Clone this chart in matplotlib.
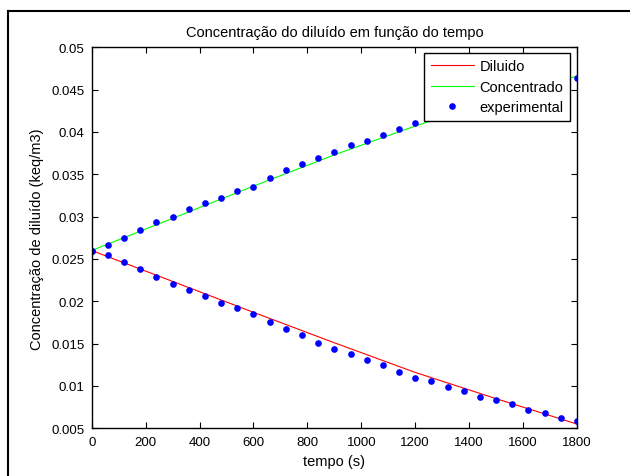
import numpy as np
import matplotlib
matplotlib.use('Agg')
import matplotlib.pyplot as plt
from matplotlib.lines import Line2D

# tempos das medidas (s)
t_exp = [0, 60, 120, 180, 240, 300, 360, 420, 480, 540, 600, 660, 720, 780, 840,
         900, 960, 1020, 1080, 1140, 1200, 1260, 1320, 1380, 1440, 1500, 1560,
         1620, 1680, 1740, 1800]

# pontos experimentais
c_dil_exp = [0.0260, 0.0255, 0.02459, 0.0238, 0.02289, 0.02207, 0.02128, 0.02065,
             0.01982, 0.01919, 0.01852, 0.01761, 0.01667, 0.0160, 0.01509, 0.01442,
             0.01375, 0.01312, 0.01245, 0.01166, 0.01099, 0.0106, 0.00993, 0.00942,
             0.00875, 0.00835, 0.00784, 0.00717, 0.00678, 0.00627, 0.00587]
c_con_exp = [0.0260, 0.02667, 0.0275, 0.02841, 0.02931, 0.02998, 0.03089, 0.03156,
             0.03223, 0.03302, 0.03353, 0.03459, 0.03554, 0.03617, 0.03696, 0.03763,
             0.03842, 0.03893, 0.0396, 0.04039, 0.04106, 0.0417, 0.0424, 0.0430,
             0.0436, 0.0442, 0.0448, 0.0453, 0.0458, 0.0462, 0.04634]

# modelo
t_mod = [0, 300, 600, 900, 1200, 1500, 1800]
c_dil_mod = [0.0260, 0.02235, 0.0187, 0.0151, 0.0116, 0.0085, 0.0055]
c_con_mod = [0.0260, 0.0298, 0.0336, 0.0373, 0.0407, 0.0438, 0.0466]

xticks = [0, 200, 400, 600, 800, 1000, 1200, 1400, 1600, 1800]
yticks = [0.005, 0.01, 0.015, 0.02, 0.025, 0.03, 0.035, 0.04, 0.045, 0.05]
ylabels = ['0.005', '0.01', '0.015', '0.02', '0.025', '0.03', '0.035', '0.04', '0.045', '0.05']

plt.rcParams['font.family'] = ['Liberation Sans', 'DejaVu Sans']
plt.rcParams['font.size'] = 9.5

fig = plt.figure(figsize=(6.3, 4.77), dpi=100)
ax = fig.add_axes([91.7 / 630, 1 - 429.3 / 477, (577 - 91.7) / 630, (429.3 - 48.3) / 477])

ax.plot(t_mod, c_dil_mod, color=(1, 0, 0), lw=0.8, label='Diluido')
ax.plot(t_mod, c_con_mod, color=(0, 1, 0), lw=0.8, label='Concentrado')
ax.plot(t_exp, c_dil_exp, 'o', color=(0, 0, 1), ms=4.8, mec='none', label='experimental')
ax.plot(t_exp, c_con_exp, 'o', color=(0, 0, 1), ms=4.8, mec='none')

ax.set_xlim(0, 1800)
ax.set_ylim(0.005, 0.05)
ax.set_xticks(xticks)
ax.set_yticks(yticks)
ax.set_yticklabels(ylabels)
ax.tick_params(direction='in', top=True, right=True, length=4, width=0.8, pad=5.2)
for s in ax.spines.values():
    s.set_linewidth(1.0)

ax.set_title('Concentração do diluído em função do tempo', fontsize=10.5, pad=8)
ax.set_xlabel('tempo (s)', fontsize=10.5, labelpad=5)
ax.set_ylabel('Concentração de diluído (keq/m3)', fontsize=10.5, labelpad=5)

leg = ax.legend(loc='upper right', bbox_to_anchor=(0.986, 0.986), borderaxespad=0,
                fancybox=False, framealpha=1, edgecolor='black', fontsize=10.5,
                handlelength=2.95, labelspacing=0.45, borderpad=0.45, handletextpad=0.4)
leg.get_frame().set_linewidth(1.0)

# moldura da figura
fig.add_artist(Line2D([8.3 / 630, 1], [1 - 11.7 / 477, 1 - 11.7 / 477], color='black', lw=1.5))
fig.add_artist(Line2D([8.3 / 630, 8.3 / 630], [0, 1 - 11.7 / 477], color='black', lw=1.5))

fig.savefig('out.png', dpi=100)
